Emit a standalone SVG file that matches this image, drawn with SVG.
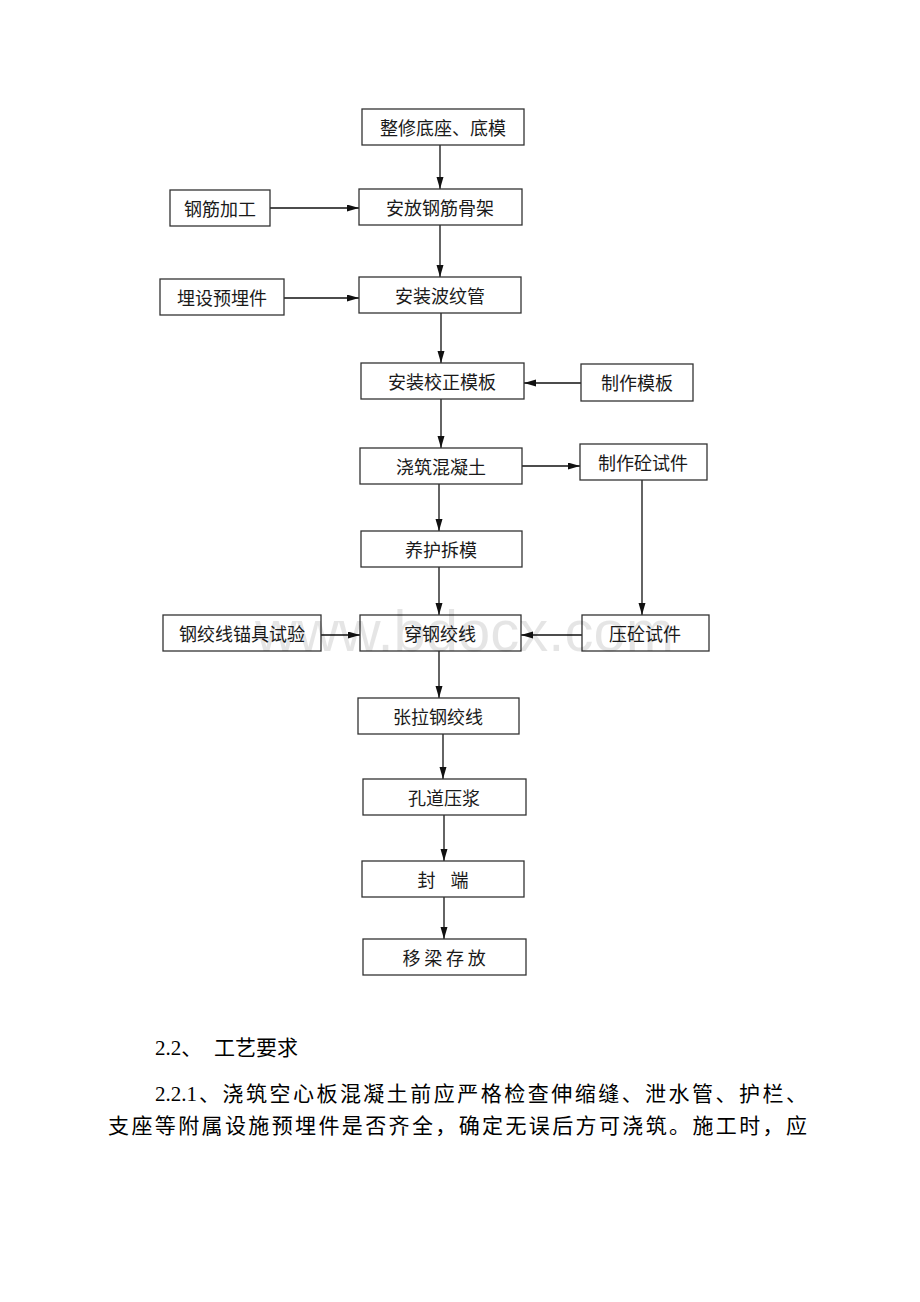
<svg xmlns="http://www.w3.org/2000/svg" width="920" height="1302" viewBox="0 0 920 1302">
<style>
.box{fill:#fff;stroke:#333;stroke-width:1.3}
.lbl{font-family:"Noto Sans CJK SC","Noto Sans",sans-serif;font-size:18px;fill:#1a1a1a;text-anchor:middle}
.ln{stroke:#111;stroke-width:1.3;fill:none;marker-end:url(#ah)}
.body{font-family:"Liberation Serif","Noto Sans CJK SC",serif;font-size:21px;fill:#000}
.wm{font-family:"Liberation Sans",Arial,sans-serif;font-size:58px;fill:#000;fill-opacity:0.1}
</style>
<defs>
<marker id="ah" markerUnits="userSpaceOnUse" markerWidth="13" markerHeight="8" refX="12" refY="3.5" orient="auto">
<path d="M0,0 L12,3.5 L0,7 z" fill="#111"/>
</marker>
</defs>
<rect width="920" height="1302" fill="#fff"/>
<g id="connectors">
<line class="ln" x1="440" y1="145" x2="440" y2="189"/>
<line class="ln" x1="270" y1="208" x2="359" y2="208"/>
<line class="ln" x1="440" y1="225" x2="440" y2="277"/>
<line class="ln" x1="284" y1="298" x2="359" y2="298"/>
<line class="ln" x1="441" y1="313" x2="441" y2="363"/>
<line class="ln" x1="581" y1="383" x2="524" y2="383"/>
<line class="ln" x1="441" y1="399" x2="441" y2="448"/>
<line class="ln" x1="522" y1="466" x2="580" y2="466"/>
<line class="ln" x1="439" y1="484" x2="439" y2="531"/>
<line class="ln" x1="642" y1="480" x2="642" y2="615"/>
<line class="ln" x1="321" y1="635" x2="360" y2="635"/>
<line class="ln" x1="582" y1="635" x2="521" y2="635"/>
<line class="ln" x1="439" y1="567" x2="439" y2="615"/>
<line class="ln" x1="439" y1="651" x2="439" y2="698"/>
<line class="ln" x1="443" y1="734" x2="443" y2="779"/>
<line class="ln" x1="444" y1="815" x2="444" y2="861"/>
<line class="ln" x1="444" y1="897" x2="444" y2="939"/>
</g>
<g id="n1"><rect class="box" x="362" y="109" width="162" height="36"/><text class="lbl" x="443" y="135">整修底座、底模</text></g>
<g id="n2"><rect class="box" x="170" y="190" width="100" height="36"/><text class="lbl" x="220" y="216">钢筋加工</text></g>
<g id="n3"><rect class="box" x="359" y="189" width="163" height="36"/><text class="lbl" x="440" y="215">安放钢筋骨架</text></g>
<g id="n4"><rect class="box" x="160" y="279" width="124" height="36"/><text class="lbl" x="222" y="305">埋设预埋件</text></g>
<g id="n5"><rect class="box" x="359" y="277" width="162" height="36"/><text class="lbl" x="440" y="303">安装波纹管</text></g>
<g id="n6"><rect class="box" x="361" y="363" width="163" height="36"/><text class="lbl" x="442" y="389">安装校正模板</text></g>
<g id="n7"><rect class="box" x="581" y="364" width="112" height="37"/><text class="lbl" x="637" y="390">制作模板</text></g>
<g id="n8"><rect class="box" x="360" y="448" width="162" height="36"/><text class="lbl" x="441" y="474">浇筑混凝土</text></g>
<g id="n9"><rect class="box" x="580" y="444" width="127" height="36"/><text class="lbl" x="643" y="470">制作砼试件</text></g>
<g id="n10"><rect class="box" x="361" y="531" width="161" height="36"/><text class="lbl" x="441" y="557">养护拆模</text></g>
<g id="n11"><rect class="box" x="163" y="615" width="158" height="36"/><text class="lbl" x="242" y="641">钢绞线锚具试验</text></g>
<g id="n12"><rect class="box" x="360" y="615" width="161" height="36"/><text class="lbl" x="440" y="641">穿钢绞线</text></g>
<g id="n13"><rect class="box" x="582" y="615" width="127" height="36"/><text class="lbl" x="645" y="641">压砼试件</text></g>
<g id="n14"><rect class="box" x="358" y="698" width="161" height="36"/><text class="lbl" x="438" y="724">张拉钢绞线</text></g>
<g id="n15"><rect class="box" x="363" y="779" width="163" height="36"/><text class="lbl" x="444" y="805">孔道压浆</text></g>
<g id="n16"><rect class="box" x="362" y="861" width="162" height="36"/><text class="lbl" x="443" y="887" word-spacing="11">封 端</text></g>
<g id="n17"><rect class="box" x="363" y="939" width="163" height="36"/><text class="lbl" x="446" y="965" letter-spacing="3.8">移梁存放</text></g>
<text class="wm" x="255" y="651">www.bdocx.com</text>
<text class="body" x="155" y="1055">2.2、<tspan x="214">工艺要求</tspan></text>
<text class="body" x="155" y="1101">2.2.1</text>
<text class="body" x="199" y="1101" textLength="608" lengthAdjust="spacing">、浇筑空心板混凝土前应严格检查伸缩缝、泄水管、护栏、</text>
<text class="body" x="108" y="1133" textLength="699" lengthAdjust="spacing">支座等附属设施预埋件是否齐全，确定无误后方可浇筑。施工时，应</text>
</svg>
